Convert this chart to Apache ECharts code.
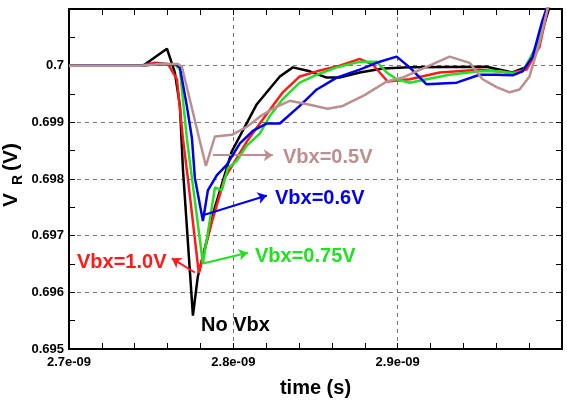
<!DOCTYPE html>
<html>
<head>
<meta charset="utf-8">
<script src="https://cdn.jsdelivr.net/npm/echarts@6/dist/echarts.min.js"></script>
<style>
  html, body { margin: 0; padding: 0; background: #fff; }
  #chart { width: 567px; height: 403px; }
</style>
</head>
<body>
<div id="chart"></div>
<script>
// time in ps, V_R in volts
var blackT = [2700, 2745, 2759.6, 2764.4, 2767.5, 2769.3, 2775.4, 2778.4, 2788.8, 2799.1, 2814.3, 2828.3, 2836.2, 2846.5, 2856.8, 2864.7, 2876.9, 2890.9, 2907.3, 2954.1, 2969.9, 2978.4, 2986.3, 2993.6];
var blackV = [0.7, 0.7, 0.7003, 0.69988, 0.69929, 0.69819, 0.69559, 0.69628, 0.6975, 0.69849, 0.69932, 0.69981, 0.69997, 0.6999, 0.69979, 0.69979, 0.69988, 0.69995, 0.69997, 0.69998, 0.69988, 0.69998, 0.70045, 0.70115];

var redT = [2700, 2743.2, 2752.3, 2760.2, 2765.7, 2769.3, 2772.3, 2779.0, 2786.9, 2794.8, 2808.2, 2816.1, 2830.1, 2840.4, 2850.8, 2864.7, 2876.9, 2884.8, 2893.9, 2907.3, 2925.5, 2949.8, 2969.9, 2978.4, 2986.3, 2992.4];
var redV = [0.7, 0.7, 0.70005, 0.70003, 0.69976, 0.69872, 0.69802, 0.69634, 0.69724, 0.69802, 0.69866, 0.69898, 0.69953, 0.69981, 0.6999, 0.7, 0.70012, 0.70002, 0.69972, 0.69976, 0.69988, 0.69993, 0.69988, 0.69993, 0.70033, 0.70115];

var greenT = [2700, 2743.2, 2754.1, 2764.4, 2767.5, 2771.7, 2774.8, 2781.5, 2785.7, 2788.8, 2793.0, 2796.7, 2802.1, 2808.2, 2816.1, 2822.2, 2830.1, 2840.4, 2850.8, 2862.9, 2876.9, 2887.2, 2893.3, 2899.4, 2907.3, 2917.6, 2931.6, 2949.8, 2962.0, 2969.9, 2976.0, 2984.5, 2991.8];
var greenV = [0.7, 0.7, 0.70003, 0.70002, 0.69993, 0.69872, 0.69802, 0.69651, 0.69727, 0.69785, 0.6978, 0.69819, 0.69832, 0.69859, 0.6988, 0.69911, 0.69941, 0.6997, 0.69984, 0.69997, 0.70007, 0.70007, 0.69988, 0.69976, 0.6997, 0.69976, 0.69984, 0.6999, 0.6999, 0.69986, 0.6999, 0.70033, 0.70115];

var blueT = [2700, 2743.2, 2754.1, 2765.0, 2767.5, 2771.7, 2774.8, 2776.6, 2781.5, 2784.5, 2790.0, 2796.0, 2804.0, 2811.9, 2820.4, 2828.3, 2840.4, 2850.8, 2862.9, 2876.9, 2889.1, 2899.4, 2907.3, 2917.6, 2935.9, 2949.8, 2960.2, 2969.9, 2976.0, 2982.1, 2988.1, 2992.4];
var blueV = [0.7, 0.7, 0.70003, 0.70002, 0.69997, 0.69929, 0.69872, 0.69802, 0.69726, 0.6978, 0.69807, 0.69825, 0.69863, 0.69885, 0.69898, 0.69898, 0.69929, 0.69958, 0.69979, 0.69993, 0.70007, 0.70016, 0.69997, 0.69967, 0.6997, 0.69984, 0.69984, 0.69983, 0.6999, 0.70016, 0.7008, 0.70115];

var brownT = [2700, 2743.2, 2755.3, 2766.3, 2768.7, 2783.3, 2788.8, 2799.1, 2808.2, 2816.1, 2824.0, 2834.3, 2846.5, 2857.4, 2866.6, 2879.9, 2893.3, 2903.0, 2917.6, 2931.6, 2943.8, 2951.7, 2960.2, 2968.1, 2974.2, 2980.2, 2986.3, 2992.4];
var brownV = [0.7, 0.7, 0.70003, 0.70003, 0.69998, 0.69823, 0.69875, 0.69878, 0.69892, 0.6991, 0.69924, 0.69938, 0.69931, 0.69924, 0.69929, 0.69948, 0.69972, 0.69979, 0.69998, 0.70016, 0.70005, 0.69976, 0.69962, 0.69953, 0.69958, 0.69981, 0.7004, 0.70115];

var labels = ['No Vbx', 'Vbx=1.0V', 'Vbx=0.75V', 'Vbx=0.6V', 'Vbx=0.5V'];
var colors = ['#000000', '#ff1a1a', '#22e022', '#0000ee', '#bc8f8f'];

// annotation arrows [tStart, vStart, tEnd, vEnd] (null = no arrow)
var arrows = [
  null,
  [2776.6, 0.69635, 2762.6, 0.69660],
  [2781.5, 0.69651, 2808.8, 0.69670],
  [2781.5, 0.69736, 2820.4, 0.69771],
  [2787.6, 0.69842, 2824.0, 0.69842]
];
// label text anchor (left, middle) in px
var labelPos = [[201, 325], [77, 262], [255, 256], [275, 198], [283, 157]];

var xTicks = [2700, 2800, 2900];

var chartDom = document.getElementById('chart');
var myChart = echarts.init(chartDom);

function zip(t, v) {
  return t.map(function (x, i) { return [x, v[i]]; });
}

var allT = [blackT, redT, greenT, blueT, brownT];
var allV = [blackV, redV, greenV, blueV, brownV];

var series = allT.map(function (t, i) {
  var s = {
    name: labels[i],
    type: 'line',
    data: zip(t, allV[i]),
    showSymbol: false,
    symbol: 'none',
    lineStyle: { color: colors[i], width: 2.5 },
    itemStyle: { color: colors[i] },
    z: 2 + i
  };
  if (arrows[i]) {
    var a = arrows[i];
    s.markLine = {
      silent: true,
      symbol: ['none', 'arrow'],
      symbolSize: 9,
      label: { show: false },
      lineStyle: { color: colors[i], width: 2, type: 'solid' },
      data: [[{ coord: [a[0], a[1]] }, { coord: [a[2], a[3]] }]]
    };
  }
  return s;
});

var tickStyle = { color: '#000', width: 1 };
var font = '"Liberation Sans", Arial, sans-serif';

var graphics = labels.map(function (txt, i) {
  return {
    type: 'text',
    x: labelPos[i][0],
    y: labelPos[i][1],
    z: 100,
    style: {
      text: txt,
      fill: colors[i],
      font: 'bold 20px ' + font,
      textAlign: 'left',
      textVerticalAlign: 'middle',
      align: 'left',
      verticalAlign: 'middle'
    }
  };
});
// y axis title V_R (V)
graphics.push({
  type: 'text', x: 11, y: 200, rotation: Math.PI / 2, z: 100,
  style: { text: 'V', fill: '#000', font: 'bold 21px ' + font, textAlign: 'center', textVerticalAlign: 'middle', align: 'center', verticalAlign: 'middle' }
});
graphics.push({
  type: 'text', x: 18, y: 180, rotation: Math.PI / 2, z: 100,
  style: { text: 'R', fill: '#000', font: 'bold 14px ' + font, textAlign: 'center', textVerticalAlign: 'middle', align: 'center', verticalAlign: 'middle' }
});
graphics.push({
  type: 'text', x: 11, y: 157, rotation: Math.PI / 2, z: 100,
  style: { text: '(V)', fill: '#000', font: 'bold 21px ' + font, textAlign: 'center', textVerticalAlign: 'middle', align: 'center', verticalAlign: 'middle' }
});

var option = {
  animation: false,
  backgroundColor: '#fff',
  grid: { left: 69, right: 5, top: 9, bottom: 49, containLabel: false },
  xAxis: [
    {
      type: 'value',
      min: 2700, max: 3000, interval: 100,
      name: 'time (s)',
      nameLocation: 'middle',
      nameGap: 29,
      nameTextStyle: { color: '#000', fontSize: 20, fontWeight: 'bold', fontFamily: font },
      axisLine: { show: true, onZero: false, lineStyle: { color: '#000', width: 2 } },
      axisTick: { show: true, inside: true, length: 6, lineStyle: tickStyle },
      minorTick: { show: true, splitNumber: 5, length: 6, lineStyle: tickStyle },
      axisLabel: {
        color: '#000', fontSize: 13, fontWeight: 'bold', fontFamily: font, margin: 7,
        showMaxLabel: false,
        formatter: function (v) {
          return xTicks.indexOf(v) >= 0 ? (v / 1000).toFixed(1) + 'e-09' : '';
        }
      },
      splitLine: { show: true, lineStyle: { color: '#777', width: 1, type: [4, 4] } }
    },
    {
      type: 'value', position: 'top',
      min: 2700, max: 3000, interval: 100,
      axisLine: { show: true, onZero: false, lineStyle: { color: '#000', width: 2 } },
      axisTick: { show: true, inside: true, length: 6, lineStyle: tickStyle },
      minorTick: { show: true, splitNumber: 5, length: 6, lineStyle: tickStyle },
      axisLabel: { show: false },
      splitLine: { show: false }
    }
  ],
  yAxis: [
    {
      type: 'value',
      min: 0.695, max: 0.701, interval: 0.001,
      axisLine: { show: true, onZero: false, lineStyle: { color: '#000', width: 2 } },
      axisTick: { show: true, inside: true, length: 6, lineStyle: tickStyle },
      minorTick: { show: true, splitNumber: 2, length: 6, lineStyle: tickStyle },
      axisLabel: {
        color: '#000', fontSize: 13, fontWeight: 'bold', fontFamily: font, margin: 5,
        showMaxLabel: false,
        formatter: function (v) {
          return v >= 0.7005 ? '' : String(parseFloat(v.toFixed(3)));
        }
      },
      splitLine: { show: true, lineStyle: { color: '#777', width: 1, type: [4, 4] } }
    },
    {
      type: 'value', position: 'right',
      min: 0.695, max: 0.701, interval: 0.001,
      axisLine: { show: true, onZero: false, lineStyle: { color: '#000', width: 2 } },
      axisTick: { show: true, inside: true, length: 6, lineStyle: tickStyle },
      minorTick: { show: true, splitNumber: 2, length: 6, lineStyle: tickStyle },
      axisLabel: { show: false },
      splitLine: { show: false }
    }
  ],
  graphic: graphics,
  series: series
};

option && myChart.setOption(option);
</script>
</body>
</html>
